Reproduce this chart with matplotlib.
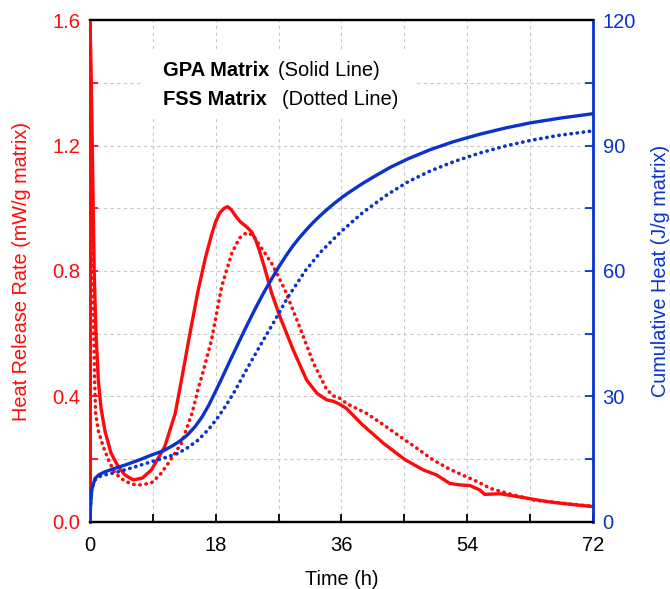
import matplotlib
matplotlib.use("Agg")
import matplotlib.pyplot as plt
from matplotlib.ticker import MultipleLocator

plt.rcParams['font.family'] = ['Liberation Sans', 'DejaVu Sans']

RED = '#FF0A0A'
BLUE = '#0A32CC'

# Heat release rate, GPA matrix (solid)
t_gpa_hrr = [0, 0.15, 0.33, 0.6, 0.86, 1.2, 1.6, 2.15, 3.0, 4.05, 5.0, 6.2, 7.5, 8.8,
             10.7, 12.2, 13.1, 14.3, 15.5, 16.5, 17.4, 18.0, 18.6, 19.2, 19.7, 20.2,
             20.8, 21.5, 22.3, 23.1, 23.7, 24.3, 25.0, 26.0, 27.2, 29.1, 31.0, 32.5,
             33.9, 34.8, 35.8, 36.7, 39.0, 42.0, 45.0, 47.7, 49.6, 51.5, 53.0, 54.4,
             55.8, 56.5, 58.7, 62.0, 65.4, 68.5, 72]
hrr_gpa = [1.6, 1.45, 1.2, 0.8, 0.6, 0.45, 0.36, 0.29, 0.22, 0.176, 0.15, 0.134, 0.14,
           0.166, 0.24, 0.346, 0.453, 0.6, 0.74, 0.84, 0.915, 0.958, 0.986, 1.0, 1.005,
           0.996, 0.977, 0.957, 0.943, 0.926, 0.9, 0.862, 0.81, 0.73, 0.654, 0.548,
           0.453, 0.41, 0.389, 0.385, 0.375, 0.362, 0.31, 0.251, 0.2, 0.166, 0.15,
           0.123, 0.118, 0.116, 0.102, 0.088, 0.09, 0.078, 0.065, 0.057, 0.049]

# Heat release rate, FSS matrix (dotted)
t_fss_hrr = [0, 0.15, 0.3, 0.5, 0.67, 0.81, 1.2, 1.9, 2.8, 3.6, 5.0, 6.2, 7.4, 8.8,
             10.0, 11.2, 13.1, 14.6, 15.7, 16.0, 17.4, 18.85, 20.3, 21.4, 22.4, 23.3,
             24.1, 26.0, 27.9, 29.8, 32.0, 33.9, 35.0, 35.8, 36.7, 39.6, 42.0, 44.4,
             46.8, 49.1, 51.5, 53.9, 55.5, 57.3, 60.0, 63.5, 67.5, 72]
hrr_fss = [1.6, 1.3, 1.0, 0.65, 0.45, 0.346, 0.29, 0.24, 0.19, 0.155, 0.13, 0.12, 0.118,
           0.125, 0.15, 0.187, 0.251, 0.346, 0.442, 0.463, 0.58, 0.75, 0.857, 0.905,
           0.922, 0.915, 0.888, 0.825, 0.74, 0.634, 0.506, 0.421, 0.40, 0.394, 0.378,
           0.346, 0.31, 0.272, 0.235, 0.198, 0.168, 0.144, 0.128, 0.107, 0.09, 0.07,
           0.06, 0.05]

# Cumulative heat, GPA matrix (solid)
t_gpa_ch = [0, 0.05, 0.24, 0.72, 1.3, 2.15, 3.5, 5.0, 7.0, 8.8, 10.5, 12.0, 13.0, 14.0,
            15.0, 16.0, 17.0, 18.0, 19.0, 20.0, 21.0, 22.0, 23.0, 24.0, 25.0, 26.0,
            27.0, 28.0, 29.0, 30.0, 31.0, 32.0, 33.0, 34.0, 35.0, 36.0, 37.0, 38.0,
            39.0, 40.6, 43.0, 45.5, 48.7, 52.0, 55.8, 59.5, 63.0, 67.5, 72]
ch_gpa = [0, 3, 7.6, 10.4, 11.3, 12.0, 12.8, 13.6, 14.8, 16.0, 17.0, 18.4, 19.5, 20.9,
          22.7, 25.0, 27.9, 31.3, 34.8, 38.4, 41.9, 45.4, 48.8, 52.1, 55.2, 58.1, 60.9,
          63.5, 65.9, 68.0, 69.9, 71.7, 73.3, 74.8, 76.2, 77.5, 78.7, 79.8, 80.9, 82.5,
          84.8, 86.8, 89.0, 90.9, 92.7, 94.2, 95.4, 96.6, 97.6]

# Cumulative heat, FSS matrix (dotted)
t_fss_ch = [0, 0.05, 0.24, 0.6, 1.2, 2.5, 4.05, 6.5, 8.8, 10.8, 12.6, 14.0, 15.5, 17.0,
            18.4, 19.6, 20.8, 22.2, 24.3, 26.5, 28.2, 30.8, 33.0, 35.8, 39.0, 42.5, 45.5,
            48.7, 52.0, 55.8, 59.5, 63.0, 67.0, 72]
ch_fss = [0, 3, 8, 9.8, 10.8, 11.4, 12.0, 13.2, 14.4, 15.4, 16.4, 17.8, 19.6, 22.2, 25.2,
          28.2, 31.5, 35.8, 42, 48.3, 53.4, 60.0, 64.5, 69.2, 73.9, 78.2, 81.3, 83.9, 86.1,
          88.2, 89.9, 91.2, 92.4, 93.5]

x_ticks = [0, 18, 36, 54, 72]
y_left_ticks = [0.0, 0.4, 0.8, 1.2, 1.6]
y_right_ticks = [0, 30, 60, 90, 120]

fig = plt.figure(figsize=(6.7, 5.89), dpi=100)
ax = fig.add_axes([0.1343, 0.1138, 0.7507, 0.8522])
ax2 = ax.twinx()

dotted = (0, (0.1, 1.6))

ax.plot(t_gpa_hrr, hrr_gpa, color=RED, lw=2.4, solid_joinstyle='round', zorder=3)
ax.plot(t_fss_hrr, hrr_fss, color=RED, lw=2.6, linestyle=dotted, dash_capstyle='round', zorder=3)
ax2.plot(t_gpa_ch, ch_gpa, color=BLUE, lw=2.4, solid_joinstyle='round', zorder=3)
ax2.plot(t_fss_ch, ch_fss, color=BLUE, lw=2.6, linestyle=dotted, dash_capstyle='round', zorder=3)

ax.set_xlim(0, 72)
ax.set_ylim(0, 1.6)
ax2.set_ylim(0, 120)

ax.set_xticks(x_ticks)
ax.set_xticklabels([str(v) for v in x_ticks])
ax.xaxis.set_minor_locator(MultipleLocator(9))
ax.set_yticks(y_left_ticks)
ax.set_yticklabels([f"{v:.1f}" for v in y_left_ticks])
ax.yaxis.set_minor_locator(MultipleLocator(0.2))
ax2.set_yticks(y_right_ticks)
ax2.set_yticklabels([str(v) for v in y_right_ticks])
ax2.yaxis.set_minor_locator(MultipleLocator(15))

# dashed grid at major and minor positions
ax.grid(True, which='both', color='#C8C8C8', linestyle=(0, (3, 3)), linewidth=0.8)
ax.set_axisbelow(True)

ax.tick_params(axis='x', which='both', direction='in', length=6, width=1.3,
               colors='black', labelsize=14.5, pad=10, top=False)
ax.tick_params(axis='y', which='both', direction='in', length=6, width=1.3,
               colors=RED, labelsize=14.5, pad=7)
ax2.tick_params(axis='y', which='both', direction='in', length=6, width=1.3,
                colors=BLUE, labelsize=14.5, pad=7)

for a in (ax, ax2):
    a.spines['top'].set_color('black')
    a.spines['bottom'].set_color('black')
    a.spines['top'].set_linewidth(1.6)
    a.spines['bottom'].set_linewidth(1.6)
ax2.spines['left'].set_color(RED)
ax2.spines['left'].set_linewidth(2.0)
ax2.spines['right'].set_color(BLUE)
ax2.spines['right'].set_linewidth(2.0)
ax.spines['left'].set_color(RED)
ax.spines['left'].set_linewidth(2.0)
ax.spines['right'].set_visible(False)

ax.set_xlabel('Time (h)', fontsize=14.3, labelpad=11)
ax.set_ylabel('Heat Release Rate (mW/g matrix)', fontsize=14.3, color=RED, labelpad=15)
ax2.set_ylabel('Cumulative Heat (J/g matrix)', fontsize=14.3, color=BLUE, labelpad=11)

# key for the line styles, on a white panel
ax2.add_patch(plt.Rectangle((0.105, 0.807), 0.541, 0.133, transform=ax.transAxes,
                            facecolor='white', edgecolor='none', zorder=2))
ax2.text(0.145, 0.900, 'GPA Matrix', transform=ax.transAxes, fontsize=14.5,
         fontweight='bold', va='center', ha='left', zorder=4)
ax2.text(0.374, 0.900, '(Solid Line)', transform=ax.transAxes, fontsize=14.5,
         va='center', ha='left', zorder=4)
ax2.text(0.145, 0.841, 'FSS Matrix', transform=ax.transAxes, fontsize=14.5,
         fontweight='bold', va='center', ha='left', zorder=4)
ax2.text(0.382, 0.841, '(Dotted Line)', transform=ax.transAxes, fontsize=14.5,
         va='center', ha='left', zorder=4)

fig.savefig('out.png', dpi=100)
